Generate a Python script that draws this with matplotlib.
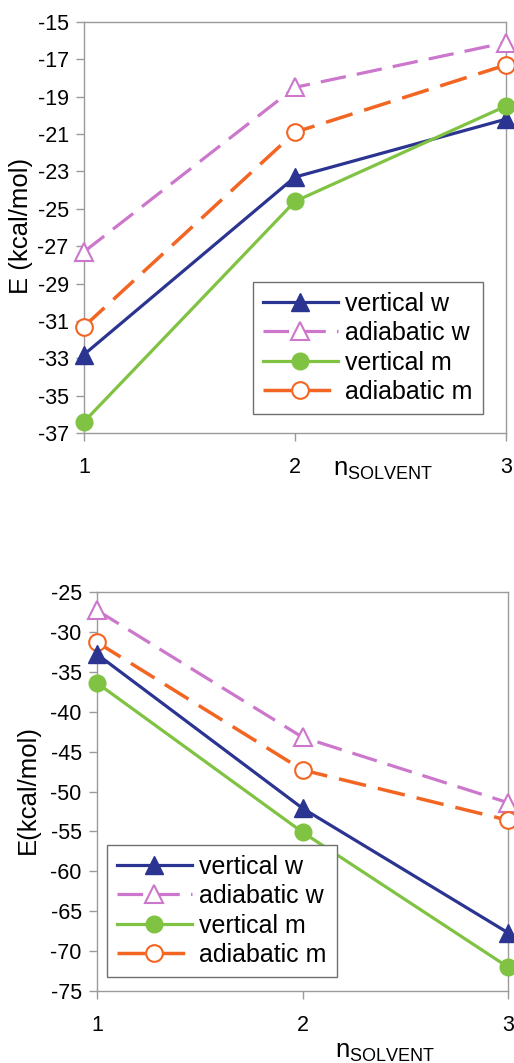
#!/usr/bin/env python3

import numpy as np
import matplotlib
matplotlib.use('Agg')
import matplotlib.pyplot as plt

n_solvent = [1, 2, 3]

# top panel
top_vert_w = [-32.8, -23.3, -20.2]
top_adia_w = [-27.3, -18.5, -16.1]
top_vert_m = [-36.4, -24.6, -19.5]
top_adia_m = [-31.3, -20.9, -17.3]
top_yticks = list(range(-15, -38, -2))

# bottom panel
bot_vert_w = [-32.8, -52.1, -67.7]
bot_adia_w = [-27.3, -43.2, -51.4]
bot_vert_m = [-36.4, -55.1, -72.0]
bot_adia_m = [-31.3, -47.3, -53.6]
bot_yticks = list(range(-25, -76, -5))

labels = ['vertical w', 'adiabatic w', 'vertical m', 'adiabatic m']

BLUE = '#2b3591'
PINK = '#cc77cc'
GREEN = '#80c342'
ORANGE = '#f26522'
GRAY = '#9a9a9a'


def draw_panel(ax, series, yticks, ylabel, ylab_x, xlab_pos, leg_anchor):
    vw, aw, vm, am = series
    ax.plot(n_solvent, vw, color=BLUE, lw=2.3, marker='^', ms=13,
            mfc=BLUE, mec=BLUE, clip_on=False, zorder=5, label=labels[0])
    ax.plot(n_solvent, aw, color=PINK, lw=2.3, dashes=(8, 3.5), marker='^', ms=13,
            mfc='white', mec=PINK, mew=1.5, clip_on=False, zorder=4, label=labels[1])
    ax.plot(n_solvent, vm, color=GREEN, lw=2.3, marker='o', ms=12,
            mfc=GREEN, mec=GREEN, clip_on=False, zorder=5, label=labels[2])
    ax.plot(n_solvent, am, color=ORANGE, lw=2.5, dashes=(8, 3.5), marker='o', ms=12,
            mfc='white', mec=ORANGE, mew=1.5, clip_on=False, zorder=4, label=labels[3])

    ax.set_xlim(1, 3)
    ax.set_ylim(yticks[-1], yticks[0])
    ax.set_xticks(n_solvent)
    ax.set_yticks(yticks)
    ax.set_xticklabels([str(v) for v in n_solvent])
    ax.set_yticklabels([str(v) for v in yticks])
    for s in ax.spines.values():
        s.set_color(GRAY)
        s.set_linewidth(1.0)
    ax.tick_params(axis='both', colors=GRAY, labelcolor='black', labelsize=15.5,
                   length=6, width=1.0, direction='out')
    ax.tick_params(axis='x', pad=11)
    ax.tick_params(axis='y', pad=5)
    ax.set_ylabel(ylabel, fontsize=18.5)
    ax.yaxis.set_label_coords(ylab_x, 0.505)
    ax.text(xlab_pos[0], xlab_pos[1], r'$\mathregular{n_{SOLVENT}}$', fontsize=18.5,
            transform=ax.transAxes, ha='center', va='center')
    leg = ax.legend(loc='lower left', bbox_to_anchor=leg_anchor, borderaxespad=0,
                    fontsize=18, handlelength=3.0, handletextpad=0.3,
                    labelspacing=0.22, borderpad=0.4, fancybox=False,
                    framealpha=1, edgecolor='#707070')
    leg.get_frame().set_linewidth(1.0)


def main():
    plt.rcParams['font.family'] = ['Liberation Sans', 'DejaVu Sans']
    plt.rcParams['mathtext.fontset'] = 'custom'
    plt.rcParams['mathtext.rm'] = 'Liberation Sans'

    fig = plt.figure(figsize=(5.14, 10.63), dpi=100)
    ax1 = fig.add_axes([84 / 514, 1 - 433 / 1063, 422 / 514, 411 / 1063])
    ax2 = fig.add_axes([97 / 514, 1 - 991 / 1063, 411 / 514, 399 / 1063])

    draw_panel(ax1, (top_vert_w, top_adia_w, top_vert_m, top_adia_m), top_yticks,
               'E (kcal/mol)', -0.12, (0.709, -0.09), (0.40, 0.046))
    draw_panel(ax2, (bot_vert_w, bot_adia_w, bot_vert_m, bot_adia_m), bot_yticks,
               'E(kcal/mol)', -0.14, (0.70, -0.153), (0.024, 0.035))

    fig.savefig('out.png', dpi=100)


if __name__ == "__main__":
    main()
